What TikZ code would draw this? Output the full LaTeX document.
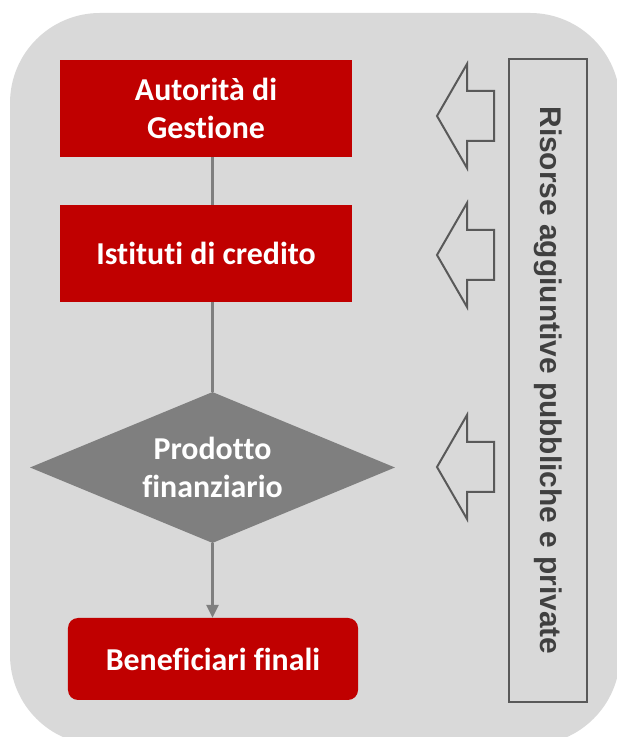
\documentclass[tikz,border=0pt]{standalone}
\usepackage{fontspec}
\setmainfont{Carlito}[Ligatures=NoCommon]
\newfontfamily\sidefont{Liberation Sans}
\usepackage{tikz}
\usetikzlibrary{shapes,shapes.geometric,arrows.meta}

\definecolor{bgGray}{HTML}{D9D9D9}
\definecolor{boxRed}{HTML}{C00000}
\definecolor{midGray}{HTML}{7F7F7F}
\definecolor{darkGray}{HTML}{595959}
\definecolor{textGray}{HTML}{404040}

\tikzset{
  redbox/.style={rectangle, fill=boxRed, text=white, align=center, inner sep=0pt,
    font=\fontsize{32}{39}\selectfont\bfseries, minimum width=292bp, minimum height=97bp},
  link/.style={draw=midGray, line width=3bp},
  blockarrow/.style={draw=darkGray, line width=2bp, line join=miter}
}

\begin{document}
\begin{tikzpicture}[x=1bp,y=1bp]
\useasboundingbox (0,0) rectangle (617,737);
\fill[bgGray, rounded corners=90bp] (10,-8) rectangle (620,724);

\node[redbox] (a) at (206,628.5) {Autorità di\\Gestione};
\node[redbox] (b) at (206,483.5) {Istituti di credito};
\node[diamond, fill=midGray, text=white, align=center, inner sep=0pt, aspect=2.4,
      minimum width=365bp, minimum height=151bp,
      font=\fontsize{32}{39}\selectfont\bfseries] (c) at (212.5,269.5) {Prodotto\\finanziario};
\node[redbox, rounded corners=10bp, minimum width=290bp, minimum height=82bp] (d) at (213,78) {Beneficiari finali};

\node[draw=darkGray, line width=2bp, rotate=-90, minimum width=643bp, minimum height=78bp,
      inner sep=0pt, text=textGray, font=\sidefont\fontsize{30}{36}\selectfont\bfseries] (r) at (548,356.5)
      {Risorse aggiuntive pubbliche e private};

% flusso verticale
\draw[link] (a.south -| c.north) -- (b.north -| c.north);
\draw[link] (b.south -| c.north) -- (c.north);
\draw[link, -{Triangle[width=12bp,length=13bp]}] (c.south) -- (d.north -| c.south);

% frecce delle risorse
\foreach \y in {621,482,270}
  \draw[blockarrow] (437,\y) -- (467,\y+52) -- (467,\y+25) -- (494,\y+25)
    -- (494,\y-25) -- (467,\y-25) -- (467,\y-52) -- cycle;
\end{tikzpicture}
\end{document}
